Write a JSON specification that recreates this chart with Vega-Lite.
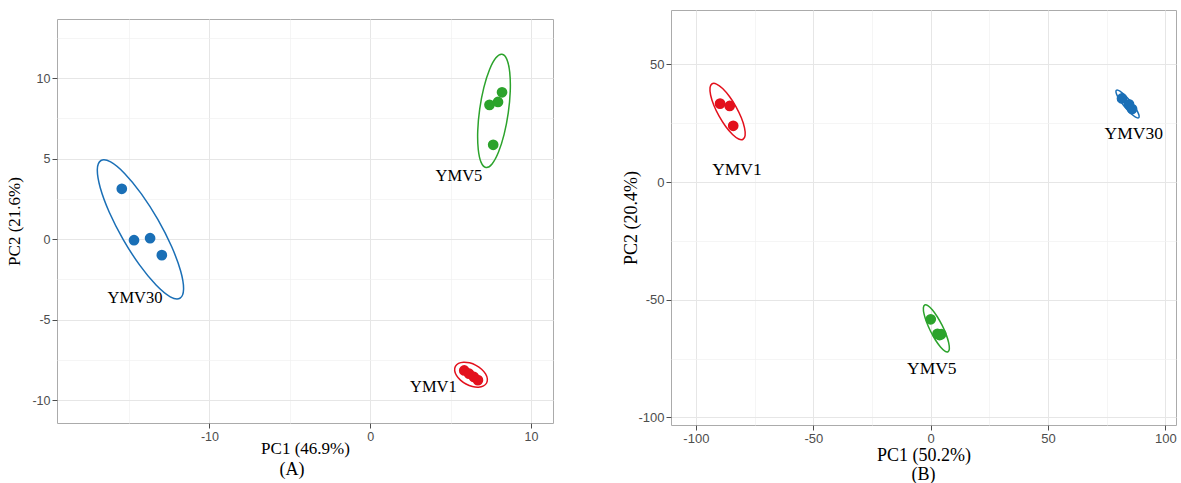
{
  "$schema": "https://vega.github.io/schema/vega-lite/v6.json",
  "background": "white",
  "padding": {"left": 5, "top": 9, "right": 0, "bottom": 0},
  "spacing": 68,
  "config": {
    "view": {"stroke": "#ababab", "strokeWidth": 1},
    "axis": {
      "domain": false,
      "tickColor": "#4d4d4d",
      "tickSize": 5,
      "labelPadding": 2,
      "labelFont": "Liberation Sans",
      "labelColor": "#4d4d4d",
      "titleFont": "Liberation Serif",
      "titleFontWeight": "normal",
      "titleColor": "#000000"
    },
    "title": {"font": "Liberation Serif", "fontWeight": "normal", "color": "#000000"}
  },
  "datasets": {
    "ptsA": [
      {"g": "YMV30", "x": -15.45, "y": 3.13},
      {"g": "YMV30", "x": -14.69, "y": -0.06},
      {"g": "YMV30", "x": -13.69, "y": 0.06},
      {"g": "YMV30", "x": -12.96, "y": -0.99},
      {"g": "YMV5", "x": 7.42, "y": 8.34},
      {"g": "YMV5", "x": 7.95, "y": 8.52},
      {"g": "YMV5", "x": 8.2, "y": 9.12},
      {"g": "YMV5", "x": 7.65, "y": 5.86},
      {"g": "YMV1", "x": 5.85, "y": -8.15},
      {"g": "YMV1", "x": 6.15, "y": -8.35},
      {"g": "YMV1", "x": 6.45, "y": -8.55},
      {"g": "YMV1", "x": 6.7, "y": -8.75}
    ],
    "labA": [
      {"g": "YMV30", "x": -14.63, "y": -3.66},
      {"g": "YMV5", "x": 5.52, "y": 3.95},
      {"g": "YMV1", "x": 3.93, "y": -9.2}
    ],
    "ellA": [
      {"g": "YMV30", "i": 0, "x": -11.835, "y": -3.665},
      {"g": "YMV30", "i": 1, "x": -12.436, "y": -3.576},
      {"g": "YMV30", "i": 2, "x": -13.318, "y": -2.848},
      {"g": "YMV30", "i": 3, "x": -14.348, "y": -1.597},
      {"g": "YMV30", "i": 4, "x": -15.37, "y": -0.007},
      {"g": "YMV30", "i": 5, "x": -16.228, "y": 1.677},
      {"g": "YMV30", "i": 6, "x": -16.79, "y": 3.196},
      {"g": "YMV30", "i": 7, "x": -16.972, "y": 4.324},
      {"g": "YMV30", "i": 8, "x": -16.745, "y": 4.885},
      {"g": "YMV30", "i": 9, "x": -16.144, "y": 4.796},
      {"g": "YMV30", "i": 10, "x": -15.262, "y": 4.068},
      {"g": "YMV30", "i": 11, "x": -14.232, "y": 2.817},
      {"g": "YMV30", "i": 12, "x": -13.21, "y": 1.227},
      {"g": "YMV30", "i": 13, "x": -12.352, "y": -0.457},
      {"g": "YMV30", "i": 14, "x": -11.79, "y": -1.976},
      {"g": "YMV30", "i": 15, "x": -11.608, "y": -3.104},
      {"g": "YMV5", "i": 0, "x": 8.198, "y": 11.478},
      {"g": "YMV5", "i": 1, "x": 8.5, "y": 11.163},
      {"g": "YMV5", "i": 2, "x": 8.679, "y": 10.361},
      {"g": "YMV5", "i": 3, "x": 8.711, "y": 9.194},
      {"g": "YMV5", "i": 4, "x": 8.587, "y": 7.84},
      {"g": "YMV5", "i": 5, "x": 8.329, "y": 6.504},
      {"g": "YMV5", "i": 6, "x": 7.975, "y": 5.393},
      {"g": "YMV5", "i": 7, "x": 7.58, "y": 4.671},
      {"g": "YMV5", "i": 8, "x": 7.202, "y": 4.452},
      {"g": "YMV5", "i": 9, "x": 6.9, "y": 4.767},
      {"g": "YMV5", "i": 10, "x": 6.721, "y": 5.569},
      {"g": "YMV5", "i": 11, "x": 6.689, "y": 6.736},
      {"g": "YMV5", "i": 12, "x": 6.813, "y": 8.09},
      {"g": "YMV5", "i": 13, "x": 7.071, "y": 9.426},
      {"g": "YMV5", "i": 14, "x": 7.425, "y": 10.537},
      {"g": "YMV5", "i": 15, "x": 7.82, "y": 11.259},
      {"g": "YMV1", "i": 0, "x": 7.241, "y": -8.926},
      {"g": "YMV1", "i": 1, "x": 7.048, "y": -9.109},
      {"g": "YMV1", "i": 2, "x": 6.737, "y": -9.185},
      {"g": "YMV1", "i": 3, "x": 6.356, "y": -9.144},
      {"g": "YMV1", "i": 4, "x": 5.96, "y": -8.99},
      {"g": "YMV1", "i": 5, "x": 5.612, "y": -8.748},
      {"g": "YMV1", "i": 6, "x": 5.365, "y": -8.455},
      {"g": "YMV1", "i": 7, "x": 5.254, "y": -8.155},
      {"g": "YMV1", "i": 8, "x": 5.299, "y": -7.894},
      {"g": "YMV1", "i": 9, "x": 5.492, "y": -7.711},
      {"g": "YMV1", "i": 10, "x": 5.803, "y": -7.635},
      {"g": "YMV1", "i": 11, "x": 6.184, "y": -7.676},
      {"g": "YMV1", "i": 12, "x": 6.58, "y": -7.83},
      {"g": "YMV1", "i": 13, "x": 6.928, "y": -8.072},
      {"g": "YMV1", "i": 14, "x": 7.175, "y": -8.365},
      {"g": "YMV1", "i": 15, "x": 7.286, "y": -8.665}
    ],
    "ptsB": [
      {"g": "YMV1", "x": -89.7, "y": 33.3},
      {"g": "YMV1", "x": -85.6, "y": 32.3},
      {"g": "YMV1", "x": -84.1, "y": 23.9},
      {"g": "YMV5", "x": 0.04, "y": -58.3},
      {"g": "YMV5", "x": 2.9, "y": -64.5},
      {"g": "YMV5", "x": 4.5, "y": -64.6},
      {"g": "YMV5", "x": 3.8, "y": -65.0},
      {"g": "YMV30", "x": 81.5, "y": 35.5},
      {"g": "YMV30", "x": 84.5, "y": 33.0},
      {"g": "YMV30", "x": 85.8, "y": 31.0}
    ],
    "labB": [
      {"g": "YMV1", "x": -82.5, "y": 5.1},
      {"g": "YMV5", "x": 0.5, "y": -79.6},
      {"g": "YMV30", "x": 86.5, "y": 20.5}
    ],
    "ellB": [
      {"g": "YMV1", "i": 0, "x": -79.903, "y": 18.16},
      {"g": "YMV1", "i": 1, "x": -81.785, "y": 18.288},
      {"g": "YMV1", "i": 2, "x": -84.386, "y": 20.196},
      {"g": "YMV1", "i": 3, "x": -87.306, "y": 23.581},
      {"g": "YMV1", "i": 4, "x": -90.107, "y": 27.945},
      {"g": "YMV1", "i": 5, "x": -92.36, "y": 32.613},
      {"g": "YMV1", "i": 6, "x": -93.714, "y": 36.868},
      {"g": "YMV1", "i": 7, "x": -93.977, "y": 40.076},
      {"g": "YMV1", "i": 8, "x": -93.097, "y": 41.74},
      {"g": "YMV1", "i": 9, "x": -91.215, "y": 41.612},
      {"g": "YMV1", "i": 10, "x": -88.614, "y": 39.704},
      {"g": "YMV1", "i": 11, "x": -85.694, "y": 36.319},
      {"g": "YMV1", "i": 12, "x": -82.893, "y": 31.955},
      {"g": "YMV1", "i": 13, "x": -80.64, "y": 27.287},
      {"g": "YMV1", "i": 14, "x": -79.286, "y": 23.032},
      {"g": "YMV1", "i": 15, "x": -79.023, "y": 19.824},
      {"g": "YMV5", "i": 0, "x": 7.387, "y": -72.074},
      {"g": "YMV5", "i": 1, "x": 6.061, "y": -71.792},
      {"g": "YMV5", "i": 2, "x": 4.183, "y": -70.037},
      {"g": "YMV5", "i": 3, "x": 2.039, "y": -67.089},
      {"g": "YMV5", "i": 4, "x": -0.048, "y": -63.382},
      {"g": "YMV5", "i": 5, "x": -1.759, "y": -59.487},
      {"g": "YMV5", "i": 6, "x": -2.827, "y": -56.005},
      {"g": "YMV5", "i": 7, "x": -3.099, "y": -53.452},
      {"g": "YMV5", "i": 8, "x": -2.527, "y": -52.226},
      {"g": "YMV5", "i": 9, "x": -1.201, "y": -52.508},
      {"g": "YMV5", "i": 10, "x": 0.677, "y": -54.263},
      {"g": "YMV5", "i": 11, "x": 2.821, "y": -57.211},
      {"g": "YMV5", "i": 12, "x": 4.908, "y": -60.918},
      {"g": "YMV5", "i": 13, "x": 6.619, "y": -64.813},
      {"g": "YMV5", "i": 14, "x": 7.687, "y": -68.295},
      {"g": "YMV5", "i": 15, "x": 7.959, "y": -70.848},
      {"g": "YMV30", "i": 0, "x": 88.63, "y": 27.31},
      {"g": "YMV30", "i": 1, "x": 87.761, "y": 27.34},
      {"g": "YMV30", "i": 2, "x": 86.299, "y": 28.255},
      {"g": "YMV30", "i": 3, "x": 84.467, "y": 29.908},
      {"g": "YMV30", "i": 4, "x": 82.54, "y": 32.055},
      {"g": "YMV30", "i": 5, "x": 80.813, "y": 34.366},
      {"g": "YMV30", "i": 6, "x": 79.555, "y": 36.485},
      {"g": "YMV30", "i": 7, "x": 78.947, "y": 38.096},
      {"g": "YMV30", "i": 8, "x": 79.09, "y": 38.95},
      {"g": "YMV30", "i": 9, "x": 79.959, "y": 38.92},
      {"g": "YMV30", "i": 10, "x": 81.421, "y": 38.005},
      {"g": "YMV30", "i": 11, "x": 83.253, "y": 36.352},
      {"g": "YMV30", "i": 12, "x": 85.18, "y": 34.205},
      {"g": "YMV30", "i": 13, "x": 86.907, "y": 31.894},
      {"g": "YMV30", "i": 14, "x": 88.165, "y": 29.775},
      {"g": "YMV30", "i": 15, "x": 88.773, "y": 28.164}
    ]
  },
  "hconcat": [
    {
      "spacing": 7,
      "vconcat": [
        {
          "width": 496,
          "height": 1,
          "view": {"stroke": null},
          "data": {"values": []},
          "mark": "point"
        },
        {
          "width": 496,
          "height": 404,
          "title": {"text": "(A)", "orient": "bottom", "fontSize": 18, "offset": 4, "dx": -13, "anchor": "middle"},
          "layer": [
            {
              "data": {"name": "ellA"},
              "mark": {"type": "line", "interpolate": "cardinal-closed", "strokeWidth": 1.5},
              "encoding": {
                "x": {
                  "field": "x", "type": "quantitative",
                  "scale": {"domain": [-19.48, 11.37], "nice": false, "zero": false},
                  "axis": {
                    "title": "PC1 (46.9%)", "titleFontSize": 17, "titlePadding": -2, "labelFontSize": 12.5,
                    "values": [-15, -10, -5, 0, 5, 10],
                    "labelExpr": "datum.value % 10 === 0 ? replace(datum.label, '\u2212', '-') : ''",
                    "gridColor": {"condition": {"test": "datum.value % 10 === 0", "value": "#e6e6e6"}, "value": "#f1f1f1"},
                    "gridWidth": {"condition": {"test": "datum.value % 10 === 0", "value": 1}, "value": 0.7},
                    "tickOpacity": {"condition": {"test": "datum.value % 10 === 0", "value": 1}, "value": 0}
                  }
                },
                "y": {
                  "field": "y", "type": "quantitative",
                  "scale": {"domain": [-11.41, 13.67], "nice": false, "zero": false},
                  "axis": {
                    "title": "PC2 (21.6%)", "titleFontSize": 17, "titlePadding": 8, "labelFontSize": 12.5,
                    "values": [-10, -7.5, -5, -2.5, 0, 2.5, 5, 7.5, 10, 12.5],
                    "labelExpr": "datum.value % 5 === 0 ? replace(datum.label, '\u2212', '-') : ''",
                    "gridColor": {"condition": {"test": "datum.value % 5 === 0", "value": "#e6e6e6"}, "value": "#f1f1f1"},
                    "gridWidth": {"condition": {"test": "datum.value % 5 === 0", "value": 1}, "value": 0.7},
                    "tickOpacity": {"condition": {"test": "datum.value % 5 === 0", "value": 1}, "value": 0}
                  }
                },
                "color": {"field": "g", "type": "nominal", "scale": {"domain": ["YMV1", "YMV5", "YMV30"], "range": ["#e3101c", "#2ca32c", "#1a6fb6"]}, "legend": null},
                "order": {"field": "i", "type": "quantitative"}
              }
            },
            {
              "data": {"name": "ptsA"},
              "mark": {"type": "circle", "size": 115, "opacity": 1},
              "encoding": {
                "x": {"field": "x", "type": "quantitative"},
                "y": {"field": "y", "type": "quantitative"},
                "color": {"field": "g", "type": "nominal", "legend": null}
              }
            },
            {
              "data": {"name": "labA"},
              "mark": {"type": "text", "font": "Liberation Serif", "fontSize": 16.5, "color": "#000000"},
              "encoding": {
                "x": {"field": "x", "type": "quantitative"},
                "y": {"field": "y", "type": "quantitative"},
                "text": {"field": "g"}
              }
            }
          ]
        }
      ]
    },
    {
      "width": 505,
      "height": 415,
      "title": {"text": "(B)", "orient": "bottom", "fontSize": 18, "offset": 2, "anchor": "middle"},
      "layer": [
        {
          "data": {"name": "ellB"},
          "mark": {"type": "line", "interpolate": "cardinal-closed", "strokeWidth": 1.5},
          "encoding": {
            "x": {
              "field": "x", "type": "quantitative",
              "scale": {"domain": [-110.6, 104.5], "nice": false, "zero": false},
              "axis": {
                "title": "PC1 (50.2%)", "titleFontSize": 18, "titlePadding": 1, "labelFontSize": 13,
                "values": [-100, -75, -50, -25, 0, 25, 50, 75, 100],
                "labelExpr": "datum.value % 50 === 0 ? replace(datum.label, '\u2212', '-') : ''",
                "gridColor": {"condition": {"test": "datum.value % 50 === 0", "value": "#e6e6e6"}, "value": "#f1f1f1"},
                "gridWidth": {"condition": {"test": "datum.value % 50 === 0", "value": 1}, "value": 0.7},
                "tickOpacity": {"condition": {"test": "datum.value % 50 === 0", "value": 1}, "value": 0}
              }
            },
            "y": {
              "field": "y", "type": "quantitative",
              "scale": {"domain": [-103.2, 73.07], "nice": false, "zero": false},
              "axis": {
                "title": "PC2 (20.4%)", "titleFontSize": 18, "titlePadding": -3, "labelFontSize": 13,
                "values": [-100, -75, -50, -25, 0, 25, 50],
                "labelExpr": "datum.value % 50 === 0 ? replace(datum.label, '\u2212', '-') : ''",
                "gridColor": {"condition": {"test": "datum.value % 50 === 0", "value": "#e6e6e6"}, "value": "#f1f1f1"},
                "gridWidth": {"condition": {"test": "datum.value % 50 === 0", "value": 1}, "value": 0.7},
                "tickOpacity": {"condition": {"test": "datum.value % 50 === 0", "value": 1}, "value": 0}
              }
            },
            "color": {"field": "g", "type": "nominal", "scale": {"domain": ["YMV1", "YMV5", "YMV30"], "range": ["#e3101c", "#2ca32c", "#1a6fb6"]}, "legend": null},
            "order": {"field": "i", "type": "quantitative"}
          }
        },
        {
          "data": {"name": "ptsB"},
          "mark": {"type": "circle", "size": 115, "opacity": 1},
          "encoding": {
            "x": {"field": "x", "type": "quantitative"},
            "y": {"field": "y", "type": "quantitative"},
            "color": {"field": "g", "type": "nominal", "legend": null}
          }
        },
        {
          "data": {"name": "labB"},
          "mark": {"type": "text", "font": "Liberation Serif", "fontSize": 17.5, "color": "#000000"},
          "encoding": {
            "x": {"field": "x", "type": "quantitative"},
            "y": {"field": "y", "type": "quantitative"},
            "text": {"field": "g"}
          }
        }
      ]
    }
  ]
}
